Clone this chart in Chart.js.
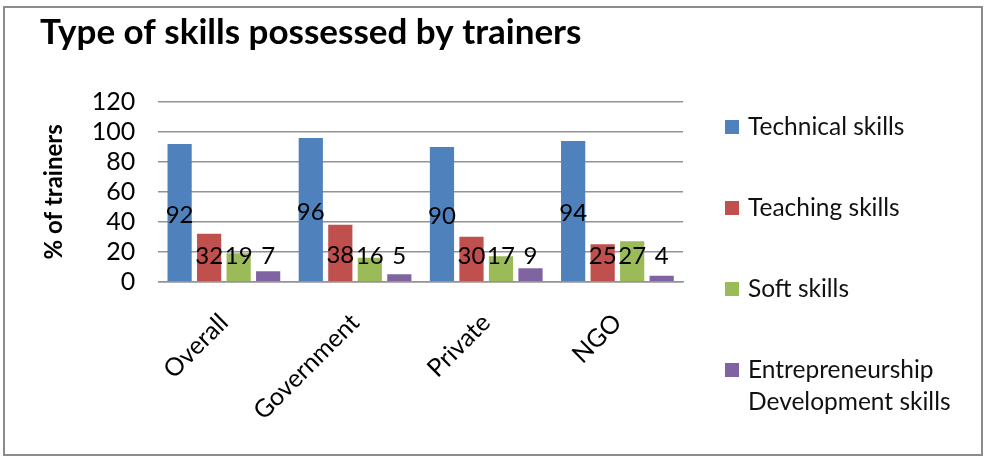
<!DOCTYPE html>
<html>
<head>
<meta charset="utf-8">
<script src="https://cdn.jsdelivr.net/npm/chart.js@4/dist/chart.umd.min.js"></script>
<style>
  html, body { margin: 0; padding: 0; background: #fff; }
  #wrap { width: 986px; height: 459px; }
</style>
</head>
<body>
<div id="wrap"><canvas id="skillsChart" width="986" height="459"></canvas></div>
<script>
// ---- data ----
const categories = ['Overall', 'Government', 'Private', 'NGO'];
const seriesNames = ['Technical skills', 'Teaching skills', 'Soft skills', 'Entrepreneurship Development skills'];
const technical = [92, 96, 90, 94];
const teaching = [32, 38, 30, 25];
const soft = [19, 16, 17, 27];
const entrepreneurship = [7, 5, 9, 4];
const seriesColors = ['#4F81BD', '#C0504D', '#9BBB59', '#8064A2'];
const yTicks = [0, 20, 40, 60, 80, 100, 120];

const FONT = 'Lato';

// outer frame of the chart
const framePlugin = {
    id: 'frame',
    beforeDraw(chart) {
        const ctx = chart.ctx;
        ctx.save();
        ctx.fillStyle = '#fff';
        ctx.fillRect(0, 0, chart.width, chart.height);
        ctx.strokeStyle = '#8c8c8c';
        ctx.lineWidth = 2;
        ctx.strokeRect(4, 7, chart.width - 8, chart.height - 11);
        ctx.restore();
    }
};

// value labels inside the bars
const valueLabels = {
    id: 'valueLabels',
    afterDatasetsDraw(chart) {
        const ctx = chart.ctx;
        const zeroY = chart.scales.y.getPixelForValue(0);
        ctx.save();
        ctx.font = '24px ' + FONT;
        ctx.fillStyle = '#000';
        ctx.textAlign = 'center';
        ctx.textBaseline = 'middle';
        chart.data.datasets.forEach((ds, i) => {
            chart.getDatasetMeta(i).data.forEach((bar, j) => {
                const mid = (bar.y + zeroY) / 2 + 2;
                const y = Math.min(mid, zeroY - 25);
                ctx.fillText(String(ds.data[j]), bar.x, y);
            });
        });
        ctx.restore();
    }
};

// legend on the right, spread down the side like the original
const sideLegend = {
    id: 'sideLegend',
    afterDraw(chart) {
        const ctx = chart.ctx;
        const area = chart.chartArea;
        const x0 = 725;
        ctx.save();
        ctx.font = '24.5px ' + FONT;
        ctx.textBaseline = 'middle';
        ctx.textAlign = 'left';
        chart.data.datasets.forEach((ds, i) => {
            const cy = area.top + 25 + i * 81;
            ctx.fillStyle = ds.backgroundColor;
            ctx.fillRect(x0, cy - 7, 14, 14);
            // wrap long names
            const words = ds.label.split(' ');
            const lines = [];
            let cur = '';
            words.forEach(w => {
                const test = cur ? cur + ' ' + w : w;
                if (cur && ctx.measureText(test).width > 225) {
                    lines.push(cur);
                    cur = w;
                } else {
                    cur = test;
                }
            });
            lines.push(cur);
            ctx.fillStyle = '#111';
            lines.forEach((ln, k) => ctx.fillText(ln, x0 + 23, cy + k * 32));
        });
        ctx.restore();
    }
};

const valueSets = [technical, teaching, soft, entrepreneurship];

new Chart(document.getElementById('skillsChart'), {
    type: 'bar',
    data: {
        labels: categories,
        datasets: valueSets.map((vals, i) => ({
            label: seriesNames[i],
            data: vals,
            backgroundColor: seriesColors[i],
            categoryPercentage: 0.9,
            barPercentage: 0.82
        }))
    },
    options: {
        responsive: false,
        animation: false,
        layout: { padding: { left: 40, right: 303, top: 6, bottom: 7 } },
        plugins: {
            legend: { display: false },
            tooltip: { enabled: false },
            title: {
                display: true,
                text: 'Type of skills possessed by trainers',
                align: 'start',
                color: '#000',
                font: { family: FONT, size: 35, weight: 'bold' },
                padding: { top: 6, bottom: 48 }
            }
        },
        scales: {
            y: {
                min: 0,
                max: 120,
                afterBuildTicks(axis) { axis.ticks = yTicks.map(v => ({ value: v })); },
                ticks: { color: '#000', font: { family: FONT, size: 25 }, padding: 23, autoSkip: false },
                grid: { color: '#939393', lineWidth: 1.5, drawTicks: false },
                border: { display: false },
                title: {
                    display: true,
                    text: '% of trainers',
                    color: '#000',
                    font: { family: FONT, size: 24, weight: 'bold' },
                    padding: { top: 0, bottom: 0 }
                }
            },
            x: {
                grid: { display: false, drawTicks: false },
                border: { color: '#939393', width: 1.5 },
                ticks: {
                    color: '#000',
                    font: { family: FONT, size: 25 },
                    minRotation: 45,
                    maxRotation: 45,
                    padding: 26
                }
            }
        }
    },
    plugins: [framePlugin, valueLabels, sideLegend]
});
</script>
</body>
</html>
